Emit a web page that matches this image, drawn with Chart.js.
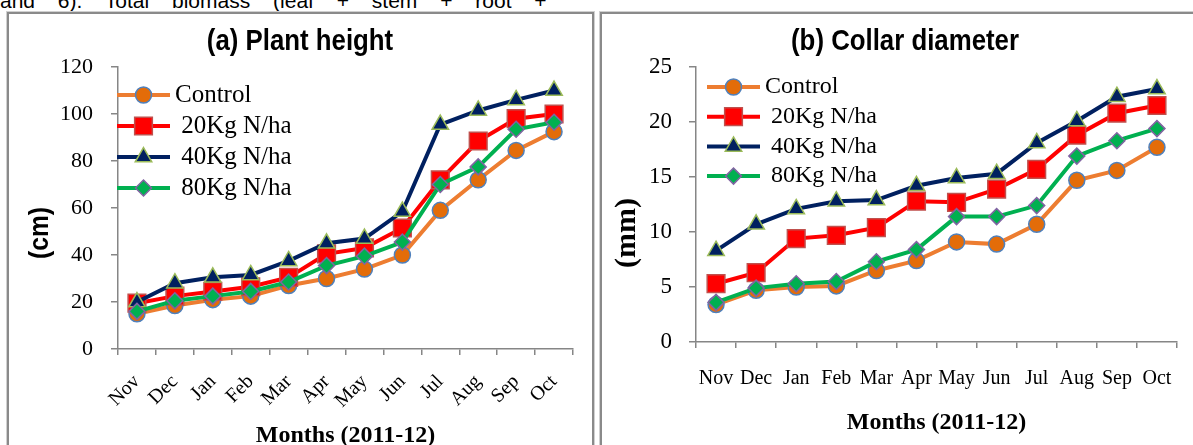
<!DOCTYPE html>
<html>
<head>
<meta charset="utf-8">
<title>Plant height and collar diameter</title>
<script src="https://cdn.jsdelivr.net/npm/chart.js@4.4.1/dist/chart.umd.min.js"></script>
<style>
    html, body { margin: 0; padding: 0; background: #fff; overflow: hidden; }
    body { width: 1193px; height: 445px; position: relative; }
    .frame { position: absolute; box-sizing: border-box; border: 2px solid #8a8a8a; box-shadow: 0 0 0 1px #d0d0d0; }
    #frameA { left: 7px; top: 12px; width: 587px; height: 470px; }
    #frameB { left: 600px; top: 12px; width: 700px; height: 470px; }
    .cut-line { position: absolute; left: 0; top: -11px; font: 21px "Liberation Sans", Arial, sans-serif; word-spacing: 17px; white-space: nowrap; color: #000; }
    canvas { position: absolute; }
    #heightChart { left: 10px; top: 15px; }
    #diameterChart { left: 603px; top: 14px; }
</style>
</head>
<body>
<div class="cut-line">and 6). Total biomass (leaf + stem + root +</div>
<div class="frame" id="frameA"></div>
<div class="frame" id="frameB"></div>
<canvas id="heightChart" width="580" height="430"></canvas>
<canvas id="diameterChart" width="590" height="431"></canvas>

<script>
// Data
const months = ['Nov', 'Dec', 'Jan', 'Feb', 'Mar', 'Apr', 'May', 'Jun', 'Jul', 'Aug', 'Sep', 'Oct'];
const seriesNames = ['Control', ' 20Kg N/ha', ' 40Kg N/ha', ' 80Kg N/ha'];

// (a) plant height, cm
const heightControl = [15, 18.5, 21, 22.5, 27, 30, 34, 40, 59, 72, 84.5, 92.5];
const height20 = [19.5, 22.5, 24.5, 26.5, 30.5, 40.5, 43, 51.5, 72, 88.5, 98, 100];
const height40 = [20, 28, 30.5, 31.5, 37.5, 45, 47, 58.5, 95.5, 101.5, 106, 110];
const height80 = [16, 20.5, 22.5, 24.5, 28.5, 35.5, 39.5, 45.5, 70, 77.5, 93.5, 96.5];

// (b) collar diameter, mm
const diamControl = [3.4, 4.7, 5.0, 5.1, 6.5, 7.4, 9.1, 8.9, 10.7, 14.7, 15.6, 17.7];
const diam20 = [5.3, 6.3, 9.4, 9.7, 10.4, 12.8, 12.7, 13.9, 15.7, 18.8, 20.8, 21.5];
const diam40 = [8.3, 10.7, 12.1, 12.8, 12.9, 14.2, 14.9, 15.3, 18.1, 20.1, 22.3, 23.0];
const diam80 = [3.6, 4.9, 5.3, 5.5, 7.3, 8.4, 11.4, 11.4, 12.4, 16.9, 18.3, 19.4];

const SERIF = '"Liberation Serif", "Times New Roman", serif';
const SANS = '"Liberation Sans", Arial, sans-serif';
const AXIS_GREY = '#868686';

Chart.defaults.color = '#000';

// Series look (Excel style markers)
const seriesStyle = [
    { line: '#ED7D31', fill: '#E36C09', edge: '#4F81BD', shape: 'circle', size: 8, order: 4 },
    { line: '#FF0000', fill: '#FF0000', edge: '#C0504D', shape: 'rect', size: 12.5, order: 3 },
    { line: '#002060', fill: '#002060', edge: '#9BBB59', shape: 'triangle', size: 9.5, order: 2 },
    { line: '#00B050', fill: '#00B050', edge: '#8064A2', shape: 'rectRot', size: 8, order: 1 }
];

function buildDatasets(values) {
    return values.map((vals, i) => {
        const s = seriesStyle[i];
        return {
            label: seriesNames[i],
            data: vals,
            borderColor: s.line,
            borderWidth: 4,
            tension: 0,
            pointStyle: s.shape,
            pointRadius: s.size,
            pointBackgroundColor: s.fill,
            pointBorderColor: s.edge,
            pointBorderWidth: 1.5,
            order: s.order
        };
    });
}

// Legend drawn inside the plot, like the Excel original
const insideLegend = {
    id: 'insideLegend',
    afterDatasetsDraw(chart, args, opts) {
        const { ctx, chartArea } = chart;
        chart.data.datasets.forEach((ds, i) => {
            const y = chartArea.top + opts.firstRow + i * opts.rowGap;
            const x0 = chartArea.left + opts.lineStart;
            ctx.save();
            ctx.strokeStyle = ds.borderColor;
            ctx.lineWidth = ds.borderWidth;
            ctx.beginPath();
            ctx.moveTo(x0, y);
            ctx.lineTo(x0 + opts.lineLen, y);
            ctx.stroke();
            ctx.fillStyle = ds.pointBackgroundColor;
            ctx.strokeStyle = ds.pointBorderColor;
            ctx.lineWidth = ds.pointBorderWidth;
            Chart.helpers.drawPoint(ctx, {
                pointStyle: ds.pointStyle,
                radius: ds.pointRadius,
                rotation: 0,
                borderWidth: ds.pointBorderWidth
            }, x0 + opts.lineLen / 2, y);
            ctx.fillStyle = '#000';
            ctx.font = opts.font;
            ctx.textAlign = 'left';
            ctx.textBaseline = 'middle';
            ctx.fillText(ds.label, chartArea.left + opts.textStart, y);
            ctx.restore();
        });
    }
};

// Panel title and y axis caption (squashed a bit to look like Arial Narrow)
const panelText = {
    id: 'panelText',
    afterDraw(chart, args, o) {
        const ctx = chart.ctx;
        ctx.save();
        ctx.fillStyle = '#000';
        ctx.textAlign = 'center';
        ctx.textBaseline = 'middle';
        ctx.save();
        ctx.translate(o.titleX, o.titleY);
        ctx.scale(o.titleSquash, 1);
        ctx.font = o.titleFont;
        ctx.fillText(o.title, 0, 0);
        ctx.restore();
        ctx.translate(o.yTitleX, o.yTitleY);
        ctx.rotate(-Math.PI / 2);
        ctx.scale(o.yTitleSquash, 1);
        ctx.font = o.yTitleFont;
        ctx.fillText(o.yTitle, 0, 0);
        ctx.restore();
    }
};

function axisX(opts) {
    return {
        type: 'category',
        offset: true,
        grid: { offset: true, drawOnChartArea: false, tickLength: 6, color: AXIS_GREY, lineWidth: 1.5 },
        border: { color: AXIS_GREY, width: 1.5 },
        ticks: {
            autoSkip: false,
            color: '#000',
            font: { family: SERIF, size: opts.tickSize },
            maxRotation: opts.rotation,
            minRotation: opts.rotation,
            padding: opts.tickPad
        },
        title: {
            display: true,
            text: 'Months (2011-12)',
            color: '#000',
            font: { family: SERIF, size: 24, weight: 'bold', lineHeight: 0.75 },
            padding: { top: 0, bottom: opts.titlePad }
        },
        afterFit(scale) { scale.height = opts.height; }
    };
}

function axisY(opts) {
    return {
        min: 0,
        max: opts.max,
        grid: { drawOnChartArea: false, tickLength: 7, color: AXIS_GREY, lineWidth: 1.5 },
        border: { color: AXIS_GREY, width: 1.5 },
        ticks: {
            stepSize: opts.step,
            color: '#000',
            font: { family: SERIF, size: opts.tickSize },
            padding: opts.tickPad
        },
        afterFit(scale) { scale.width = opts.width; }
    };
}

// (a) Plant height
new Chart(document.getElementById('heightChart'), {
    type: 'line',
    data: {
        labels: months,
        datasets: buildDatasets([heightControl, height20, height40, height80])
    },
    options: {
        responsive: false,
        animation: false,
        devicePixelRatio: 1,
        layout: { padding: { top: 52, right: 17, left: 0, bottom: 0 } },
        scales: {
            x: axisX({ tickSize: 20, rotation: 45, tickPad: 15, titlePad: 0, height: 96 }),
            y: axisY({ max: 120, step: 20, tickSize: 22, tickPad: 18, width: 108 })
        },
        plugins: {
            legend: { display: false },
            tooltip: { enabled: false },
            insideLegend: { firstRow: 28, rowGap: 31, lineStart: -1, lineLen: 53, textStart: 57, font: '25px ' + SERIF },
            panelText: {
                title: '(a) Plant height', titleX: 290, titleY: 27, titleFont: 'bold 30px ' + SANS, titleSquash: 0.86,
                yTitle: '(cm)', yTitleX: 30, yTitleY: 218, yTitleFont: 'bold 28px ' + SANS, yTitleSquash: 0.88
            }
        }
    },
    plugins: [insideLegend, panelText]
});

// (b) Collar diameter
new Chart(document.getElementById('diameterChart'), {
    type: 'line',
    data: {
        labels: months,
        datasets: buildDatasets([diamControl, diam20, diam40, diam80])
    },
    options: {
        responsive: false,
        animation: false,
        devicePixelRatio: 1,
        layout: { padding: { top: 53, right: 16, left: 0, bottom: 0 } },
        scales: {
            x: axisX({ tickSize: 20, rotation: 0, tickPad: 19, titlePad: 13, height: 103 }),
            y: axisY({ max: 25, step: 5, tickSize: 23, tickPad: 17, width: 93 })
        },
        plugins: {
            legend: { display: false },
            tooltip: { enabled: false },
            insideLegend: { firstRow: 20, rowGap: 29.7, lineStart: 11, lineLen: 53, textStart: 69, font: '24px ' + SERIF },
            panelText: {
                title: '(b) Collar diameter', titleX: 302, titleY: 28, titleFont: 'bold 30px ' + SANS, titleSquash: 0.86,
                yTitle: '(mm)', yTitleX: 24, yTitleY: 219, yTitleFont: 'bold 30px ' + SERIF, yTitleSquash: 1
            }
        }
    },
    plugins: [insideLegend, panelText]
});
</script>
</body>
</html>
